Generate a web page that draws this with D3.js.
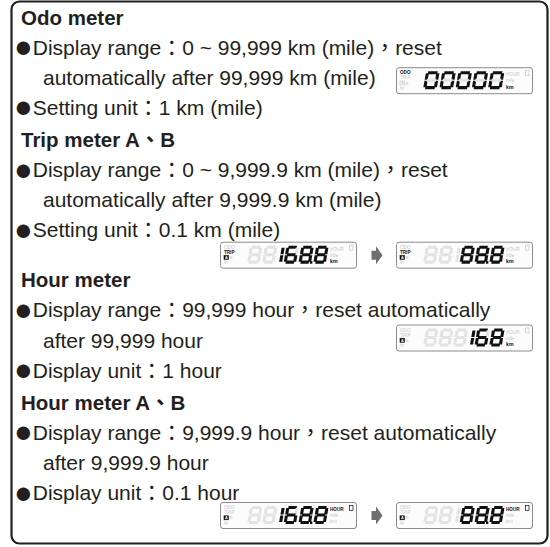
<!DOCTYPE html>
<html><head><meta charset="utf-8">
<script src="https://cdn.jsdelivr.net/npm/d3@7"></script>
<style>body{margin:0;background:#fff}svg{display:block}</style>
</head><body><svg id="c" width="550" height="547"></svg>
<script>
// ---- text content ----
const lineTexts = [
  "Odo meter",
  "Display range：0 ~ 99,999 km (mile)，reset",
  "automatically after 99,999 km (mile)",
  "Setting unit：1 km (mile)",
  "Trip meter A、B",
  "Display range：0 ~ 9,999.9 km (mile)，reset",
  "automatically after 9,999.9 km (mile)",
  "Setting unit：0.1 km (mile)",
  "Hour meter",
  "Display range：99,999 hour，reset automatically",
  "after 99,999 hour",
  "Display unit：1 hour",
  "Hour meter A、B",
  "Display range：9,999.9 hour，reset automatically",
  "after 9,999.9 hour",
  "Display unit：0.1 hour"
];
const lineKinds = ["title","bullet","cont","bullet","title","bullet","cont","bullet",
                   "title","bullet","cont","bullet","title","bullet","cont","bullet"];
const displayRowAfter = [7, 15];

// ---- LCD displays ----
const displayChars = ["00000", "88168.8", "88188.8", "888168", "88168.8", "88188.8"];
const displayMask  = ["11111", "0011111", "0001111", "000111", "0011111", "0001111"];
const displayLeftOn = [[0], [1, 2], [1, 2], [2], [2], [2]];
const displayUnitOn = ["km", "km", "km", "km", "HOUR", "HOUR"];
const leftLabels = ["ODO", "TRIP", "A", "hr"];
const unitLabels = ["HOUR", "mile", "km"];

const svg = d3.select("#c");
const FONT = "'Liberation Sans', Arial, 'Noto Sans CJK TC', sans-serif";
const INK = "#231f20";

// frame
svg.append("rect").attr("x", 11.5).attr("y", 1.5).attr("width", 536).attr("height", 542)
  .attr("rx", 8).attr("fill", "none").attr("stroke", INK).attr("stroke-width", 2.2);

// line layout
const lineGap = 30.1, titleExtra = 2, displayExtra = 18;
const ys = [];
let y = 24.5;
lineKinds.forEach((k, i) => {
  if (i > 0) {
    y += lineGap;
    if (k === "title") y += titleExtra;
    if (displayRowAfter.includes(i - 1)) y += displayExtra;
  }
  ys.push(y);
});

const texts = svg.append("g").selectAll("text").data(lineTexts).join("text")
  .attr("x", (d, i) => lineKinds[i] === "cont" ? 43 : (lineKinds[i] === "bullet" ? 14 : 21))
  .attr("y", (d, i) => ys[i])
  .attr("font-family", FONT)
  .attr("font-size", (d, i) => lineKinds[i] === "title" ? 20.5 : 21)
  .attr("font-weight", (d, i) => lineKinds[i] === "title" ? "bold" : "normal")
  .attr("fill", INK);
texts.filter((d, i) => lineKinds[i] === "bullet")
  .append("tspan").attr("font-size", 31).attr("dy", 2.5).text("●");
texts.append("tspan").attr("dy", (d, i) => lineKinds[i] === "bullet" ? -2.5 : 0).text(d => d);

// seven-segment helpers
const SEG = {"0": "abcdef", "6": "acdefg", "8": "abcdefg", "1": "bc"};
function segRects(w, h, t) {
  const g = 0.5, hv = h / 2 - t / 2 - 2 * g;
  return {
    a: [t * 0.5 + g, -h, w - t - 2 * g, t],
    g: [t * 0.5 + g, -h / 2 - t / 2, w - t - 2 * g, t],
    d: [t * 0.5 + g, -t, w - t - 2 * g, t],
    f: [0, -h + t * 0.5 + g, t, hv],
    b: [w - t, -h + t * 0.5 + g, t, hv],
    e: [0, -h / 2 + g, t, hv],
    c: [w - t, -h / 2 + g, t, hv]
  };
}
const OFF = "#e3e3e3", ON = "#111";

function drawDisplay(idx, bx, by) {
  const W = 136, H = 26;
  const g = svg.append("g");
  g.append("rect").attr("x", bx + 0.5).attr("y", by + 0.5).attr("width", W).attr("height", H)
    .attr("rx", 2.5).attr("fill", "#fcfcfc").attr("stroke", "#8c8c8c").attr("stroke-width", 1);
  const chars = displayChars[idx].split(""), mask = displayMask[idx].split("");
  const units = chars.map(c => c === "." ? 0 : (c === "1" ? 0.45 : 1));
  const total = d3.sum(units);
  const xs = d3.scaleLinear().domain([0, total]).range([bx + 27, bx + 108]);
  const unitW = xs(1) - xs(0);
  const gh = 18, gb = by + 22, t = 3.1;
  let u = 0;
  chars.forEach((c, i) => {
    const on = mask[i] === "1";
    if (c === ".") {
      g.append("rect").attr("x", xs(u) - 3.2).attr("y", gb - 2.6).attr("width", 2.4).attr("height", 2.6)
        .attr("fill", on ? ON : OFF);
      return;
    }
    const w = c === "1" ? t + 0.5 : unitW * 0.84;
    const ox = c === "1" ? xs(u) + (unitW * 0.45 - w) / 2 : xs(u);
    const gg = g.append("g").attr("transform", `translate(${ox},${gb}) skewX(-10)`);
    const R = segRects(c === "1" ? w * 2 : w, gh, t);
    const all = c === "1" ? "bc" : "abcdefg";
    all.split("").forEach(s => {
      const r = R[s];
      const xoff = c === "1" ? -w : 0;
      gg.append("rect").attr("x", r[0] + xoff).attr("y", r[1]).attr("width", r[2]).attr("height", r[3])
        .attr("fill", on && SEG[c].includes(s) ? ON : OFF);
    });
    u += units[i];
  });
  // left labels
  leftLabels.forEach((lab, r) => {
    const on = displayLeftOn[idx].includes(r);
    const ly = by + 7 + r * 5.2;
    if (r === 2) {
      g.append("rect").attr("x", bx + 4).attr("y", ly - 3.6).attr("width", 4.5).attr("height", 4)
        .attr("fill", on ? ON : "none").attr("stroke", on ? ON : "#c8c8c8").attr("stroke-width", 0.6);
      g.append("text").attr("x", bx + 9.5).attr("y", ly).attr("font-family", FONT).attr("font-size", 4.4)
        .attr("fill", "#c8c8c8").text("B");
      g.append("text").attr("x", bx + 4.9).attr("y", ly - 0.2).attr("font-family", FONT).attr("font-size", 3.8)
        .attr("font-weight", "bold").attr("fill", on ? "#fff" : "#c8c8c8").text(lab);
    } else {
      g.append("text").attr("x", bx + 4).attr("y", ly).attr("font-family", FONT).attr("font-size", 4.6)
        .attr("font-weight", on ? "bold" : "normal").attr("fill", on ? ON : "#c8c8c8").text(lab);
    }
  });
  // unit labels
  unitLabels.forEach((lab, r) => {
    const on = displayUnitOn[idx] === lab;
    const ly = by + 9 + r * 6.2;
    g.append("text").attr("x", bx + 110).attr("y", ly).attr("font-family", FONT)
      .attr("font-size", lab === "km" ? 5.2 : 4.6).attr("font-weight", on ? "bold" : "normal")
      .attr("fill", on ? ON : "#c8c8c8").text(lab);
  });
  const hourOn = displayUnitOn[idx] === "HOUR";
  g.append("rect").attr("x", bx + 129.5).attr("y", by + 3.5).attr("width", 3.5).attr("height", 5)
    .attr("fill", "none").attr("stroke", hourOn ? ON : "#c8c8c8").attr("stroke-width", 0.7);
}

function drawArrow(cx, cy) {
  svg.append("path")
    .attr("d", `M${cx - 5.5},${cy - 4.5} L${cx - 1},${cy - 4.5} L${cx - 1},${cy - 9} L${cx + 5.5},${cy} L${cx - 1},${cy + 9} L${cx - 1},${cy + 4.5} L${cx - 5.5},${cy + 4.5} Z`)
    .attr("fill", "#6f6f6f");
}

// placements
const LEFTX = 220, RIGHTX = 396;
drawDisplay(0, RIGHTX, ys[2] - 17.5);
const tripY = ys[7] + 4.5;
drawDisplay(1, LEFTX, tripY);
drawArrow(377, tripY + 13.5);
drawDisplay(2, RIGHTX, tripY);
drawDisplay(3, RIGHTX, ys[10] - 23);
const habY = ys[15] + 2;
drawDisplay(4, LEFTX, habY);
drawArrow(377, habY + 13.5);
drawDisplay(5, RIGHTX, habY);
</script>
</body></html>
